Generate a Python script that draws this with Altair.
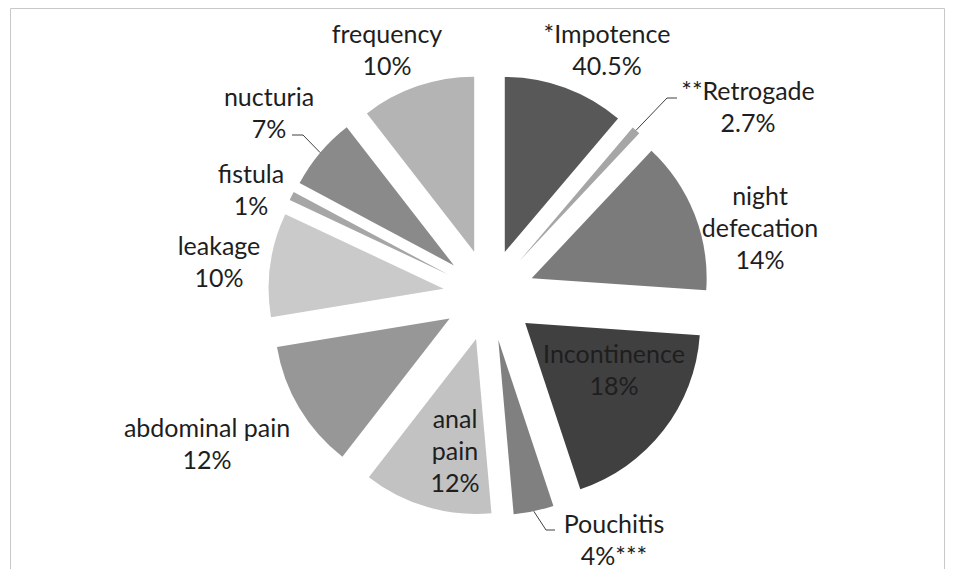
import altair as alt
import pandas as pd

# ---------------- data ----------------
categories = ["*Impotence", "**Retrogade", "night defecation", "Incontinence",
              "Pouchitis", "anal pain", "abdominal pain", "leakage", "fistula",
              "nucturia", "frequency"]
# slice sizes (share of the full circle, %)
shares = [11.2, 0.8, 14.1, 18.8, 3.7, 11.9, 11.9, 9.6, 0.8, 6.7, 10.5]
# label texts as printed on the chart
label_texts = ["*Impotence\n40.5%", "**Retrogade\n2.7%", "night\ndefecation\n14%",
               "Incontinence\n18%", "Pouchitis\n4%***", "anal\npain\n12%",
               "abdominal pain\n12%", "leakage\n10%", "fistula\n1%",
               "nucturia\n7%", "frequency\n10%"]
fills = ["#585858", "#a6a6a6", "#7b7b7b", "#404040", "#808080", "#c2c2c2",
         "#979797", "#cacaca", "#a6a6a6", "#8a8a8a", "#b4b4b4"]

# ---------------- layout ----------------
W, H = 939, 561
CX, CY = 481, 287          # pie centre
R = 175                    # slice radius
EXPLODE = 45.8             # explosion distance

# label anchors (centre x, first baseline) relative to the pie centre
label_dx = [118, 259, 271, 125, 125, -34, -282, -270, -238, -220, -102]
label_dy = [-252, -195, -90, 68, 238, 133, 142, -40, -112, -189, -252]
# leader lines: elbow and end, relative to label anchor
elbow_dx = [None, -81, None, None, -68, None, None, None, None, 34, None]
elbow_dy = [None, -2, None, None, -3, None, None, None, None, 29, None]
end_dx = [None, -71, None, None, -59, None, None, None, None, 23, None]
end_dy = [None, -2, None, None, -3, None, None, None, None, 29, None]

total = sum(shares)

df = pd.DataFrame({
    "order": list(range(len(categories))),
    "category": categories,
    "share": shares,
    "label": label_texts,
    "ldx": label_dx,
    "ldy": label_dy,
    "edx": elbow_dx,
    "edy": elbow_dy,
    "tdx": end_dx,
    "tdy": end_dy,
})

xs = alt.Scale(domain=[0, W], range=[0, W], nice=False, zero=False)
ys = alt.Scale(domain=[0, H], range=[0, H], nice=False, zero=False)

base = alt.Chart(df).transform_window(
    cum="sum(share)", sort=[alt.SortField("order")], frame=[None, 0]
).transform_calculate(
    start="datum.cum - datum.share",
    mid=f"(datum.cum - datum.share / 2) / {total} * 2 * PI",
).transform_calculate(
    px=f"{CX} + {EXPLODE} * sin(datum.mid)",
    py=f"{CY} - {EXPLODE} * cos(datum.mid)",
    tipx=f"{CX} + {EXPLODE + R} * sin(datum.mid)",
    tipy=f"{CY} - {EXPLODE + R} * cos(datum.mid)",
    lx=f"{CX} + datum.ldx",
    ly=f"{CY} + datum.ldy",
)

arcs = base.mark_arc(outerRadius=R, innerRadius=0).encode(
    theta=alt.Theta("start:Q", stack=None,
                    scale=alt.Scale(domain=[0, total], range=[0, 6.283185307179586])),
    theta2="cum:Q",
    x=alt.X("px:Q", scale=xs, axis=None),
    y=alt.Y("py:Q", scale=ys, axis=None),
    color=alt.Color("category:N", scale=alt.Scale(domain=categories, range=fills),
                    legend=None),
)

leaders = base.transform_filter("isValid(datum.edx)").transform_calculate(
    ex="datum.lx + datum.edx", ey="datum.ly + datum.edy",
    tx="datum.lx + datum.tdx", ty="datum.ly + datum.tdy",
)
seg1 = leaders.mark_rule(color="#404040", strokeWidth=1).encode(
    x=alt.X("tipx:Q", scale=xs, axis=None), y=alt.Y("tipy:Q", scale=ys, axis=None),
    x2="ex:Q", y2="ey:Q",
)
seg2 = leaders.mark_rule(color="#404040", strokeWidth=1).encode(
    x=alt.X("ex:Q", scale=xs, axis=None), y=alt.Y("ey:Q", scale=ys, axis=None),
    x2="tx:Q", y2="ty:Q",
)

texts = base.mark_text(
    font="Lato", fontSize=25, color="#1e1e1e", align="center",
    baseline="alphabetic", lineBreak="\n", lineHeight=32,
).encode(
    x=alt.X("lx:Q", scale=xs, axis=None),
    y=alt.Y("ly:Q", scale=ys, axis=None),
    text="label:N",
)

frame = alt.Chart(pd.DataFrame({"f": [0]})).mark_rect(
    fill="#ffffff", fillOpacity=0, stroke="#c8c8c8", strokeWidth=1
).encode(
    x=alt.value(2.5), x2=alt.value(W - 2.5), y=alt.value(0.5), y2=alt.value(H + 40)
)

chart = alt.layer(frame, arcs, seg1, seg2, texts).properties(
    width=W, height=H, padding=0,
    autosize=alt.AutoSizeParams(type="none"),
    background="#ffffff",
).configure_view(strokeWidth=0)

chart.save("out.html", embed_options={"renderer": "svg", "actions": False})
